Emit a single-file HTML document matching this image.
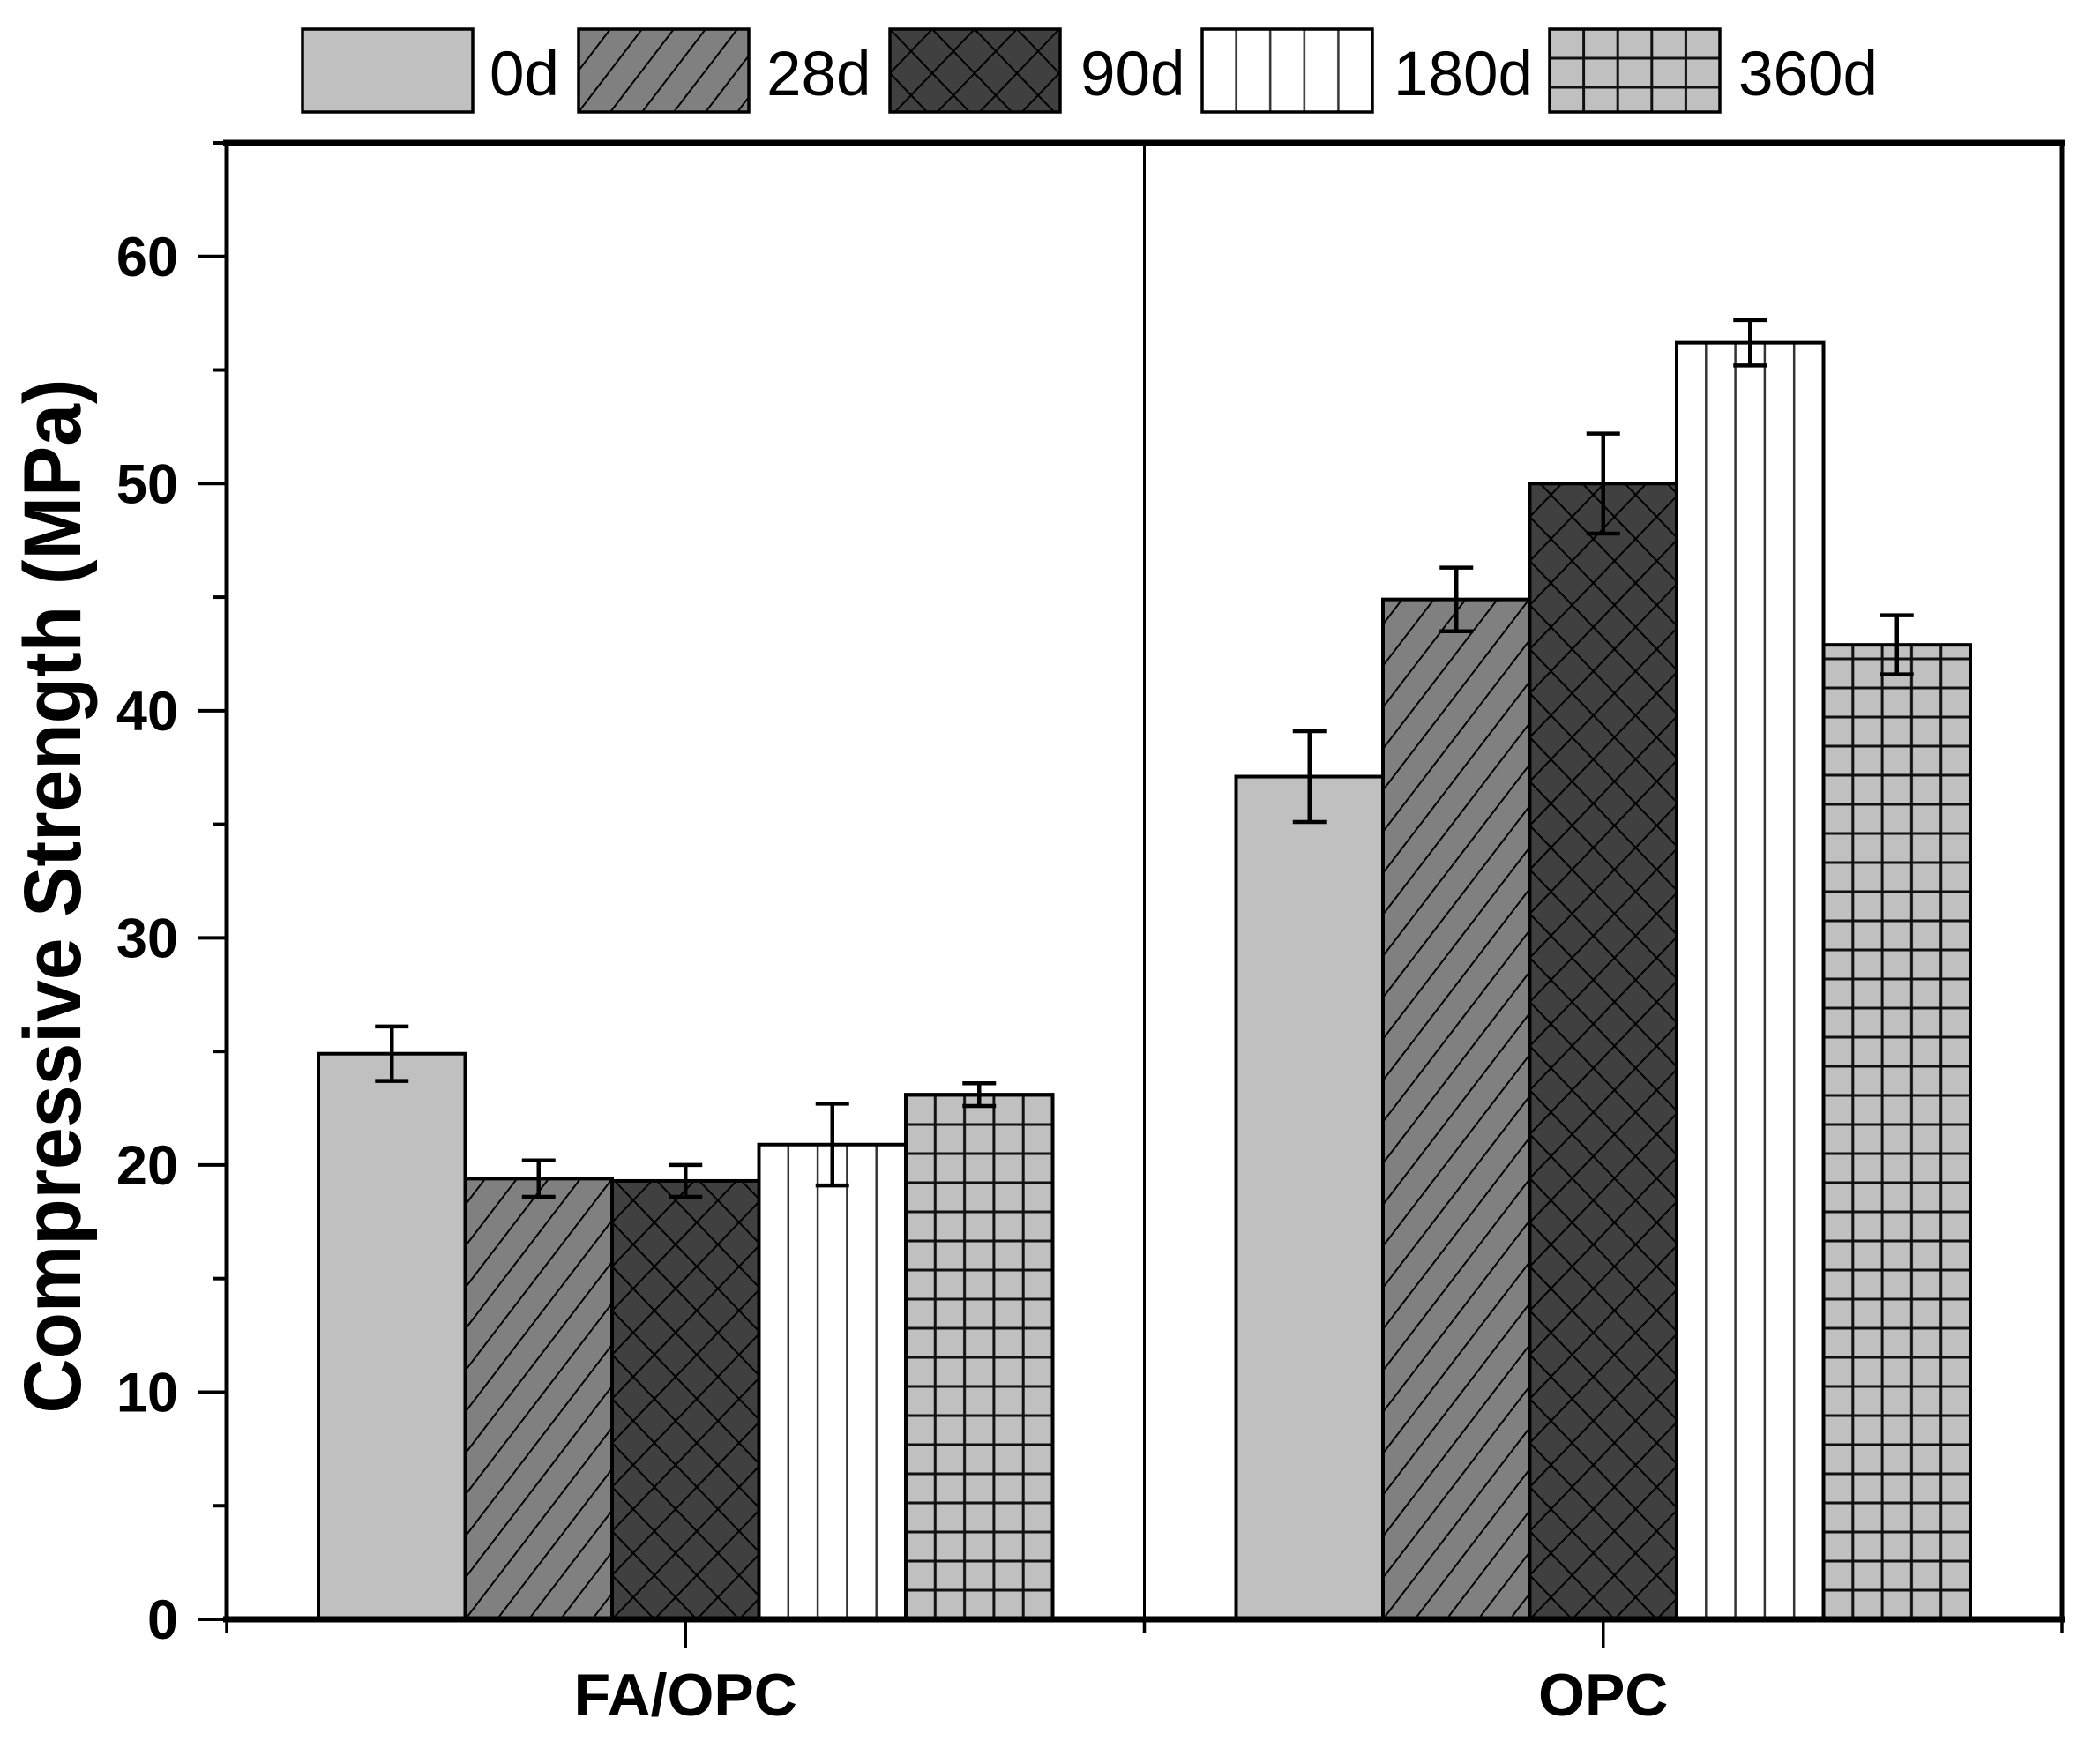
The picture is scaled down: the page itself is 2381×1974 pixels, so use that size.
<!DOCTYPE html>
<html><head><meta charset="utf-8"><style>
html,body{margin:0;padding:0;background:#fff;}
svg{display:block;font-family:"Liberation Sans",Arial,sans-serif;}
</style></head><body>
<svg id="chart" width="2381" height="1974" viewBox="0 0 2381 1974" xmlns="http://www.w3.org/2000/svg">
<defs id="defs"></defs>
<g id="legend"></g>
<g id="bars"></g>
<g id="axes"></g>
</svg>
<script>
const categories = ["FA/OPC", "OPC"];
const seriesNames = ["0d", "28d", "90d", "180d", "360d"];
const values0d   = [24.9, 37.1];
const values28d  = [19.4, 44.9];
const values90d  = [19.3, 50.0];
const values180d = [20.9, 56.2];
const values360d = [23.1, 42.9];
const err0d   = [1.2, 2.0];
const err28d  = [0.8, 1.4];
const err90d  = [0.7, 2.2];
const err180d = [1.8, 1.0];
const err360d = [0.5, 1.3];
const yTicks = [0, 10, 20, 30, 40, 50, 60];
const yMinorTicks = [5, 15, 25, 35, 45, 55, 65];

const NS = "http://www.w3.org/2000/svg";
const svg = document.getElementById('chart');
const defs = document.getElementById('defs');
const gBars = document.getElementById('bars');
const gAxes = document.getElementById('axes');
const gLeg = document.getElementById('legend');
const X0 = 257, X1 = 2338, Y0 = 1836, YTOP = 162, YMAX = 65;
function yScale(v){ return Y0 - (v / YMAX) * (Y0 - YTOP); }
function catCenter(i){ return X0 + (X1 - X0) * (i + 0.5) / categories.length; }
const BW = 166.5;
function barLeft(ci, si){ return catCenter(ci) - BW * 2.5 + si * BW; }
function mk(tag, attrs, parent){ const e = document.createElementNS(NS, tag); for (const k in attrs) e.setAttribute(k, attrs[k]); parent.appendChild(e); return e; }

const allVals = [values0d, values28d, values90d, values180d, values360d];
const allErr = [err0d, err28d, err90d, err180d, err360d];
const fills = ["#c0c0c0", "#808080", "#404040", "#ffffff", "#c0c0c0"];

let pid = 0;
function makePattern(si, x, y, w){
  const id = 'p' + (pid++);
  let p;
  if (si === 1) {
    p = mk('pattern', {id:id, patternUnits:'userSpaceOnUse', x:x, y:y, width:36, height:47}, defs);
    mk('rect', {width:36, height:47, fill:'#808080'}, p);
    mk('path', {d:'M0,47 L36,0 M-36,47 L0,0 M36,47 L72,0', stroke:'#000', 'stroke-width':2, fill:'none'}, p);
  } else if (si === 2) {
    p = mk('pattern', {id:id, patternUnits:'userSpaceOnUse', x:x, y:y, width:48, height:50}, defs);
    mk('rect', {width:48, height:50, fill:'#404040'}, p);
    mk('path', {d:'M0,0 L48,50 M48,0 L0,50 M-24,25 L0,50 M24,-25 L72,25 M24,75 L72,25 M-24,25 L24,-25', stroke:'#000', 'stroke-width':2, fill:'none'}, p);
  } else if (si === 3) {
    const s = w / 5;
    p = mk('pattern', {id:id, patternUnits:'userSpaceOnUse', x:x, y:y, width:s, height:40}, defs);
    mk('rect', {width:s, height:40, fill:'#fff'}, p);
    mk('path', {d:'M'+(s/2)+',0 L'+(s/2)+',40', stroke:'#333', 'stroke-width':2.5, fill:'none'}, p);
    p.setAttribute('x', x + w / 10);
  } else if (si === 4) {
    const s = w / 5;
    p = mk('pattern', {id:id, patternUnits:'userSpaceOnUse', x:x + s / 2, y:y + 16.5, width:s, height:33}, defs);
    mk('rect', {width:s, height:33, fill:'#c0c0c0'}, p);
    mk('path', {d:'M'+(s/2)+',0 L'+(s/2)+',33 M0,16.5 L'+s+',16.5', stroke:'#111', 'stroke-width':3, fill:'none'}, p);
  } else return fills[si];
  return 'url(#' + id + ')';
}

// bars
for (let ci = 0; ci < categories.length; ci++) {
  for (let si = 0; si < seriesNames.length; si++) {
    const v = allVals[si][ci], e = allErr[si][ci];
    const x = barLeft(ci, si), yt = yScale(v);
    const r = mk('rect', {x:x, y:yt, width:BW, height:Y0 - yt, fill:makePattern(si, x, Y0, BW), stroke:'#000', 'stroke-width':4}, gBars);
    
    
    const cx = x + BW / 2, yh = yScale(v + e), yl = yScale(v - e);
    const eb = mk('path', {d:'M'+cx+','+yh+' L'+cx+','+yl+' M'+(cx-19)+','+yh+' L'+(cx+19)+','+yh+' M'+(cx-19)+','+yl+' L'+(cx+19)+','+yl, stroke:'#000', 'stroke-width':4.5, fill:'none'}, gBars);
    
    
  }
}

// axes frame
mk('line', {x1:X0, y1:YTOP, x2:X0, y2:Y0, stroke:'#000', 'stroke-width':5}, gAxes);
mk('line', {x1:X1, y1:YTOP, x2:X1, y2:Y0, stroke:'#000', 'stroke-width':5}, gAxes);
mk('line', {x1:X0-4, y1:YTOP, x2:X1+3, y2:YTOP, stroke:'#000', 'stroke-width':7}, gAxes);
const xa = mk('line', {x1:X0-4, y1:Y0, x2:X1+3, y2:Y0, stroke:'#000', 'stroke-width':7}, gAxes);


const mid = (X0 + X1) / 2;
const dv = mk('line', {x1:mid, y1:YTOP, x2:mid, y2:Y0, stroke:'#000', 'stroke-width':3}, gAxes);


[X0, mid, X1].forEach(x => mk('line', {x1:x, y1:Y0, x2:x, y2:Y0 + 16, stroke:'#000', 'stroke-width':3.5}, gAxes));

// y ticks
yTicks.forEach(t => {
  const y = yScale(t);
  mk('line', {x1:X0 - 32, y1:y, x2:X0, y2:y, stroke:'#000', 'stroke-width':4}, gAxes);
  const tx = mk('text', {x:202, y:y + 22, 'text-anchor':'end', 'font-size':63, 'font-weight':'bold'}, gAxes);
  tx.textContent = String(t);
  
  
});
yMinorTicks.forEach(t => {
  const y = yScale(t);
  mk('line', {x1:X0 - 16, y1:y, x2:X0, y2:y, stroke:'#000', 'stroke-width':4}, gAxes);
});

// x ticks & labels
categories.forEach((c, i) => {
  const x = catCenter(i);
  mk('line', {x1:x, y1:Y0, x2:x, y2:Y0 + 32, stroke:'#000', 'stroke-width':3.5}, gAxes);
  const tx = mk('text', {x:x, y:1945, 'text-anchor':'middle', 'font-size':68, 'font-weight':'bold'}, gAxes);
  tx.textContent = c;
  
  
});

// y title
const yt = mk('text', {x:0, y:0, transform:'translate(91,1016) rotate(-90)', 'text-anchor':'middle', 'font-size':92, 'font-weight':'bold', textLength:1173, lengthAdjust:'spacingAndGlyphs'}, gAxes);
yt.textContent = 'Compressive Strength (MPa)';



// legend
const legBoxX = [343, 656, 1009, 1363, 1757];
const legTextX = [555, 869, 1225, 1580, 1971];
seriesNames.forEach((n, si) => {
  const g = mk('g', {}, gLeg);
  
  
  const w = 193;
  mk('rect', {x:legBoxX[si], y:33, width:w, height:94, fill:makePattern(si, legBoxX[si], 33, w), stroke:'#000', 'stroke-width':3.5}, g);
  const t = mk('text', {x:legTextX[si], y:108, 'font-size':71}, g);
  t.textContent = n;
});
</script>
</body></html>
